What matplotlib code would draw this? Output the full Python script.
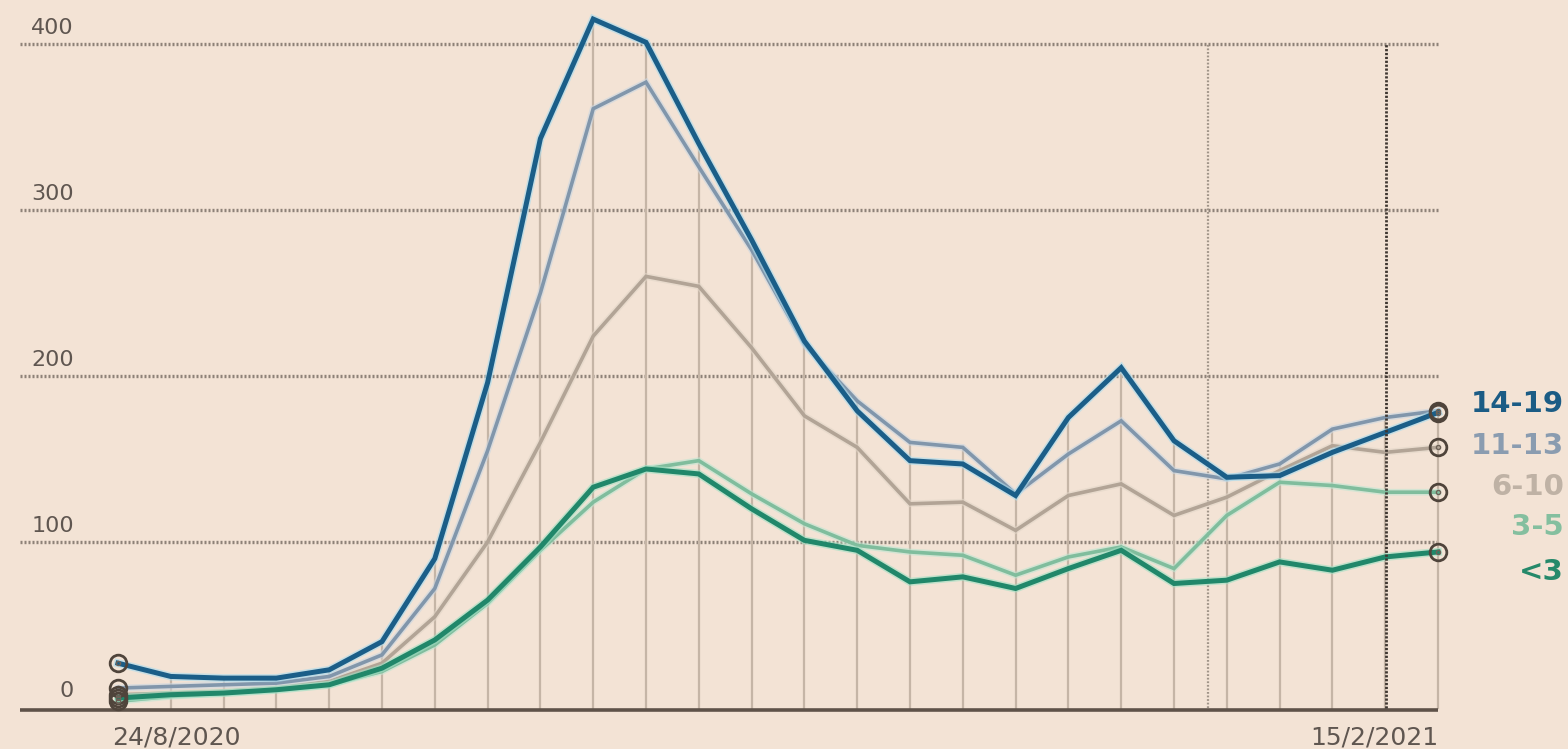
import matplotlib
matplotlib.use("Agg")
import matplotlib.pyplot as plt
import matplotlib.patheffects as pe
import numpy as np

# ---- data -------------------------------------------------------------
weeks = list(range(26))  # weekly, 24/8/2020 .. 15/2/2021
first_label = "24/8/2020"
last_label = "15/2/2021"

age_14_19 = [27, 19, 18, 18, 23, 40, 90, 196, 343, 415, 401, 340, 282, 221, 179,
             149, 147, 128, 175, 205, 161, 139, 140, 154, 166, 178]
age_11_13 = [12, 13, 14, 15, 19, 32, 72, 155, 250, 361, 377, 326, 276, 219, 185,
             160, 157, 129, 153, 173, 143, 138, 147, 168, 175, 179]
age_6_10 = [8, 9, 10, 12, 16, 27, 55, 100, 160, 224, 260, 254, 217, 176, 157,
            123, 124, 107, 128, 135, 116, 127, 143, 158, 154, 157]
age_3_5 = [4, 7, 9, 11, 14, 22, 38, 63, 95, 124, 144, 149, 129, 111, 98,
           94, 92, 80, 91, 97, 84, 116, 136, 134, 130, 130]
age_lt3 = [6, 8, 9, 11, 14, 24, 41, 65, 97, 133, 144, 141, 120, 101, 95,
           76, 79, 72, 84, 95, 75, 77, 88, 83, 91, 94]

series_labels = ["14-19", "11-13", "6-10", "3-5", "<3"]
series_values = [age_14_19, age_11_13, age_6_10, age_3_5, age_lt3]
series_colors = ["#1b5e88", "#8196ab", "#b2a496", "#80bd9d", "#21876a"]
label_colors = ["#1b5c85", "#8a9cb0", "#bfb2a5", "#84bf9f", "#25896a"]
series_widths = [3.6, 2.6, 2.6, 2.6, 3.6]
halo_colors = ["#a9dcef", "#c9d6e2", "#e2d6c8", "#bfe6d2", "#9fe0c4"]
label_y = [183, 158, 133, 109, 82]   # label anchor heights (value units)

y_ticks = [0, 100, 200, 300, 400]
event_weeks = [20.65, 24.02]          # dotted vertical markers

# ---- figure -----------------------------------------------------------
W, H = 1568, 749
bg = "#f3e3d5"
fig = plt.figure(figsize=(W / 100, H / 100), dpi=100, facecolor=bg)
ax = fig.add_axes([0, 0, 1, 1])
ax.set_facecolor(bg)
ax.axis("off")

# pixel mapping: week 0 -> x=118, week 25 -> x=1438 ; value 0 -> y=708, 400 -> y=44
px0, pxw = 118, 52.8
py0, pyv = 708, 1.66
ax.set_xlim(-px0 / pxw, (W - px0) / pxw)
ax.set_ylim(-(H - py0) / pyv, py0 / pyv)

x_left = (20 - px0) / pxw
x_end = weeks[-1]

grid_col = "#8e8278"
text_col = "#5f5650"

# horizontal dotted gridlines
for t in y_ticks[1:]:
    ax.plot([x_left, x_end], [t, t], color=grid_col, lw=2.4,
            linestyle=(0, (0.6, 0.6)), zorder=1)
    ax.text((74 - px0) / pxw, t + 9.5, str(t), ha="right", va="center",
            fontsize=16, color=text_col)
ax.text((74 - px0) / pxw, 10, "0", ha="right", va="center",
        fontsize=16, color=text_col)

# weekly drop lines
maxes = np.max(np.array(series_values), axis=0)
for w, m in zip(weeks[1:], maxes[1:]):
    ax.plot([w, w], [0, m], color="#c5b5a6", lw=1.6, zorder=1.5)

# event dotted verticals
ax.plot([event_weeks[0]] * 2, [0, 400], color="#a09488", lw=1.6,
        linestyle=(0, (0.8, 0.8)), zorder=1.6)
ax.plot([event_weeks[1]] * 2, [0, 400], color="#3e3630", lw=2.0,
        linestyle=(0, (0.8, 0.6)), zorder=6)

# baseline
ax.plot([x_left, x_end], [-1, -1], color="#5e5249", lw=2.6,
        solid_capstyle="butt", zorder=2)

# series
order = [2, 1, 3, 4, 0]
for k, i in enumerate(order):
    ax.plot(weeks, series_values[i], color=series_colors[i],
            lw=series_widths[i], solid_joinstyle="miter", zorder=3 + k * 0.1,
            path_effects=[pe.Stroke(linewidth=series_widths[i] + 2.2,
                                    foreground=halo_colors[i], alpha=0.6),
                          pe.Normal()])

# end markers
for i in range(len(series_values)):
    for w in (weeks[0], weeks[-1]):
        v = series_values[i][w]
        ax.plot(w, v, marker="o", ms=12, mfc="none", mec="#4f443b",
                mew=2.0, zorder=7)
        ax.plot(w, v, marker="o", ms=3, mfc="none", mec="#6e6258",
                mew=1.0, zorder=7)

# series labels on the right
for lab, col, ly in zip(series_labels, label_colors, label_y):
    ax.text((1564 - px0) / pxw, ly, lab, ha="right", va="center",
            fontsize=21, fontweight="bold", color=col)

# date labels
ax.text((112 - px0) / pxw, -17.5, first_label, ha="left", va="center",
        fontsize=18, color=text_col)
ax.text(x_end, -17.5, last_label, ha="right", va="center",
        fontsize=18, color=text_col)

fig.savefig("out.png", dpi=100, facecolor=bg)
